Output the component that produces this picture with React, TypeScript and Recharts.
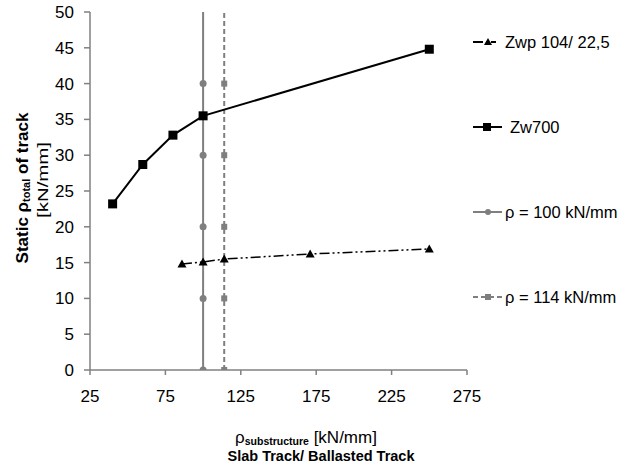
import { ComposedChart, Line, XAxis, YAxis } from 'recharts';

const xTicks = [25, 75, 125, 175, 225, 275];
const yTicks = [0, 5, 10, 15, 20, 25, 30, 35, 40, 45, 50];

const zw700X = [40, 60, 80, 100, 250];
const zw700Y = [23.2, 28.7, 32.8, 35.5, 44.8];
const zwpX = [86, 100, 114, 171, 250];
const zwpY = [14.8, 15.1, 15.5, 16.2, 16.9];
const rhoLevels = [0, 10, 20, 30, 40, 50];
const rho100 = 100;
const rho114 = 114;

const FONT = '"Liberation Sans", Arial, sans-serif';
const GRAY = '#7f7f7f';

const zw700Data = zw700X.map((x, i) => ({ x, y: zw700Y[i] }));
const zwpData = zwpX.map((x, i) => ({ x, y: zwpY[i] }));
const rho100Data = rhoLevels.map((y) => ({ x: rho100, y }));
const rho114Data = rhoLevels.map((y) => ({ x: rho114, y }));

const SquareDot = (p: any) => (
  <rect key={`sq-${p.index}`} x={p.cx - 4.5} y={p.cy - 4.5} width={9} height={9} fill="#000" />
);

const TriangleDot = (p: any) => (
  <polygon
    key={`tr-${p.index}`}
    points={`${p.cx},${p.cy - 4.5} ${p.cx + 4.5},${p.cy + 3.5} ${p.cx - 4.5},${p.cy + 3.5}`}
    fill="#000"
  />
);

// top point only carries the line up to the frame, no marker there
const CircleDot = (p: any) =>
  p.payload.y >= 50 ? <g key={`c-${p.index}`} /> : (
    <circle key={`c-${p.index}`} cx={p.cx} cy={p.cy} r={3.5} fill={GRAY} />
  );

const SmallSquareDot = (p: any) =>
  p.payload.y >= 50 ? <g key={`s-${p.index}`} /> : (
    <rect key={`s-${p.index}`} x={p.cx - 3} y={p.cy - 3} width={6} height={6} fill={GRAY} />
  );

const YTitle = (props: any) => {
  const vb = props.viewBox;
  const c1 = vb.y + vb.height / 2 - 3;
  const c2 = vb.y + vb.height / 2 - 11;
  return (
    <g fontFamily={FONT} fill="#000">
      <text
        x={22}
        y={c1}
        transform={`rotate(-90 22 ${c1})`}
        textAnchor="middle"
        dominantBaseline="central"
        fontSize={17}
        fontWeight="bold"
      >
        Static ρ<tspan fontSize={11} dy={4}>total</tspan>
        <tspan dy={-4}> of track</tspan>
      </text>
      <text
        x={42}
        y={c2}
        transform={`rotate(-90 42 ${c2})`}
        textAnchor="middle"
        dominantBaseline="central"
        fontSize={15}
        textLength={76}
        lengthAdjust="spacingAndGlyphs"
      >
        [kN/mm]
      </text>
    </g>
  );
};

const XTitle = () => (
  <g fontFamily={FONT} fill="#000">
    <text x={306} y={443} textAnchor="middle" fontSize={17}>
      ρ<tspan fontSize={10.5} fontWeight="bold" dy={2}>substructure</tspan>
      <tspan dy={-2}> [kN/mm]</tspan>
    </text>
    <text x={321} y={461} textAnchor="middle" fontSize={14.5} fontWeight="bold">
      Slab Track/ Ballasted Track
    </text>
  </g>
);

const legendItems = [
  { label: 'Zwp 104/ 22,5', y: 42, textX: 505, color: '#000', dash: '10 3 2 3', marker: 'tri' },
  { label: 'Zw700', y: 127, textX: 510, color: '#000', dash: '', marker: 'sq' },
  { label: 'ρ = 100 kN/mm', y: 212, textX: 505, color: GRAY, dash: '', marker: 'circle' },
  { label: 'ρ = 114 kN/mm', y: 297, textX: 505, color: GRAY, dash: '5 3', marker: 'small' },
];

const LegendOverlay = () => (
  <svg
    width={634}
    height={467}
    style={{ position: 'absolute', left: 0, top: 0, pointerEvents: 'none' }}
  >
    {legendItems.map((it) => (
      <g key={it.label}>
        <line
          x1={473}
          x2={it.marker === 'tri' ? 496 : 502}
          y1={it.y}
          y2={it.y}
          stroke={it.color}
          strokeWidth={2}
          strokeDasharray={it.dash || undefined}
        />
        {it.marker === 'tri' && (
          <polygon points={`488,${it.y - 4} 492,${it.y + 3} 484,${it.y + 3}`} fill="#000" />
        )}
        {it.marker === 'sq' && <rect x={483} y={it.y - 4} width={8} height={8} fill="#000" />}
        {it.marker === 'circle' && <circle cx={488} cy={it.y} r={3} fill={GRAY} />}
        {it.marker === 'small' && <rect x={485} y={it.y - 3} width={6} height={6} fill={GRAY} />}
        <text
          x={it.textX}
          y={it.y}
          dominantBaseline="central"
          fontSize={16.5}
          fontFamily={FONT}
          fill="#000"
        >
          {it.label}
        </text>
      </g>
    ))}
  </svg>
);

const App = () => (
  <div style={{ position: 'absolute', left: 0, top: 0, width: 634, height: 467, background: '#fff' }}>
    <ComposedChart width={634} height={467} margin={{ top: 12, right: 167, bottom: 0, left: 0 }}>
      <XAxis
        type="number"
        dataKey="x"
        domain={[25, 275]}
        ticks={xTicks}
        allowDataOverflow
        height={97}
        stroke="#808080"
        strokeWidth={1.5}
        tickSize={5}
        tickMargin={15}
        tick={{ fontSize: 17, fill: '#000', fontFamily: FONT }}
        label={<XTitle />}
      />
      <YAxis
        type="number"
        dataKey="y"
        domain={[0, 50]}
        ticks={yTicks}
        allowDataOverflow
        width={90}
        stroke="#808080"
        strokeWidth={1.5}
        tickSize={6}
        tickMargin={10}
        tick={{ fontSize: 17, fill: '#000', fontFamily: FONT }}
        label={<YTitle />}
      />
      <Line
        data={rho100Data}
        dataKey="y"
        stroke={GRAY}
        strokeWidth={2}
        dot={CircleDot}
        activeDot={false}
        isAnimationActive={false}
      />
      <Line
        data={rho114Data}
        dataKey="y"
        stroke={GRAY}
        strokeWidth={2}
        strokeDasharray="5 3"
        dot={SmallSquareDot}
        activeDot={false}
        isAnimationActive={false}
      />
      <Line
        data={zwpData}
        dataKey="y"
        stroke="#000"
        strokeWidth={1.5}
        strokeDasharray="10 3 2 3 2 3"
        dot={TriangleDot}
        activeDot={false}
        isAnimationActive={false}
      />
      <Line
        data={zw700Data}
        dataKey="y"
        stroke="#000"
        strokeWidth={2}
        dot={SquareDot}
        activeDot={false}
        isAnimationActive={false}
      />
    </ComposedChart>
    <LegendOverlay />
  </div>
);

export default App;
